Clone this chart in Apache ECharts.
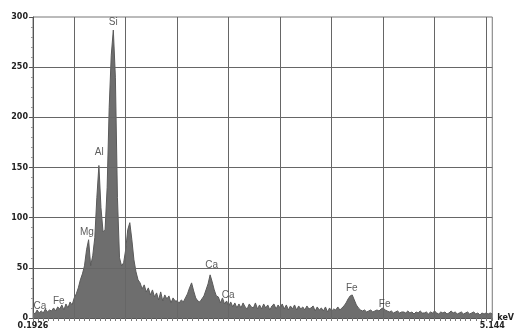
<!DOCTYPE html>
<html><head><meta charset="utf-8">
<script src="https://cdn.jsdelivr.net/npm/echarts@6/dist/echarts.min.js"></script>
<style>html,body{margin:0;padding:0;background:#fff}#c{width:517px;height:334px}</style>
</head><body><div id="c"></div>
<script>
// spectrum channel calibration (keV) and counts
const keVStart = 0.2;
const keVStep = 0.04;
const counts = [
  6,4,8,5,7,5,9,6,8,7,
  10,7,11,9,13,8,14,10,16,13,
  20,24,30,38,44,52,68,78,52,62,
  80,120,152,110,86,88,130,210,262,287,
  240,120,60,52,55,68,88,95,78,58,
  46,38,35,29,33,26,30,23,28,21,
  25,18,26,17,23,19,22,15,20,17,
  17,15,18,16,20,24,30,35,27,20,
  17,16,19,22,28,34,43,36,28,22,
  21,15,20,14,17,12,16,11,15,10,
  14,10,15,11,9,14,11,10,15,9,
  13,9,14,10,13,8,12,14,9,13,
  10,14,9,13,8,12,9,13,8,12,
  9,11,8,12,9,10,12,7,11,8,
  10,7,11,6,10,7,9,8,11,8,
  10,12,15,19,22,23,18,13,10,8,
  7,8,6,7,8,6,7,8,7,9,
  10,8,7,6,7,5,6,7,5,6,
  6,5,7,5,6,4,6,5,7,5,
  5,6,4,6,5,7,5,4,6,5,
  6,4,5,7,5,6,4,5,6,4,
  5,6,4,5,6,4,5,3,5,4,
  5,4,5,4
];
const xMin = 0.2, xMax = 9.12;
const xEndLabels = ['0.1926', '5.144'];
const xGridKeV = [1, 2, 3, 4, 5, 6, 7, 8, 9];
const yGridCounts = [50, 100, 150, 200, 250];
const peakNames = ['Si', 'Al', 'Mg', 'Ca', 'Fe', 'Ca', 'Ca', 'Fe', 'Fe'];
const peakKeV = [1.758, 1.488, 1.248, 0.335, 0.70, 3.67, 3.99, 6.39, 7.03];
const peakLabelCounts = [295, 165.5, 85.7, 12, 17, 52.3, 23, 30, 13.5];

const chart = echarts.init(document.getElementById('c'), null, {renderer: 'canvas'});
const labelFont = {fontFamily: 'DejaVu Sans', fontWeight: 'bold', fontSize: 8, color: '#222'};
chart.setOption({
  animation: false,
  grid: {left: 33, right: 20, top: 17, bottom: 16, show: true, borderColor: '#777', borderWidth: 1, backgroundColor: '#fff'},
  xAxis: {
    type: 'value', min: xMin, max: xMax, interval: 0.1,
    axisLine: {show: true, lineStyle: {color: '#555'}},
    axisTick: {show: true, length: 3, lineStyle: {color: '#777'}},
    splitLine: {show: false},
    axisLabel: Object.assign({margin: 4, formatter: function (v) {
      if (Math.abs(v - xMin) < 1e-6) return xEndLabels[0];
      if (Math.abs(v - xMax) < 1e-6) return xEndLabels[1];
      return '';
    }}, labelFont),
    name: 'keV', nameLocation: 'end', nameGap: 5,
    nameTextStyle: Object.assign({verticalAlign: 'middle'}, labelFont)
  },
  yAxis: {
    type: 'value', min: 0, max: 300, interval: 50,
    axisLine: {show: true, lineStyle: {color: '#555'}},
    axisTick: {show: true, length: 4, lineStyle: {color: '#555'}},
    minorTick: {show: true, splitNumber: 5, length: 2, lineStyle: {color: '#999'}},
    splitLine: {show: false},
    axisLabel: Object.assign({margin: 5}, labelFont)
  },
  series: [
    {
      type: 'line',
      data: counts.map((c, i) => [keVStart + keVStep * i, c]),
      symbol: 'none',
      lineStyle: {color: '#5a5a5a', width: 1},
      areaStyle: {color: '#6e6e6e', opacity: 1},
      markLine: {
        silent: true, symbol: 'none', label: {show: false},
        lineStyle: {color: '#666', width: 1, type: 'solid'},
        data: xGridKeV.map(v => ({xAxis: v})).concat(yGridCounts.map(v => ({yAxis: v})))
      },
      z: 2
    },
    {
      type: 'scatter',
      data: peakNames.map((n, i) => ({name: n, value: [peakKeV[i], peakLabelCounts[i]]})),
      symbolSize: 1,
      itemStyle: {color: 'rgba(0,0,0,0)'},
      label: {show: true, position: 'inside', formatter: '{b}', fontFamily: 'Liberation Sans', fontSize: 10, color: '#333'},
      z: 5
    }
  ]
});
</script></body></html>
